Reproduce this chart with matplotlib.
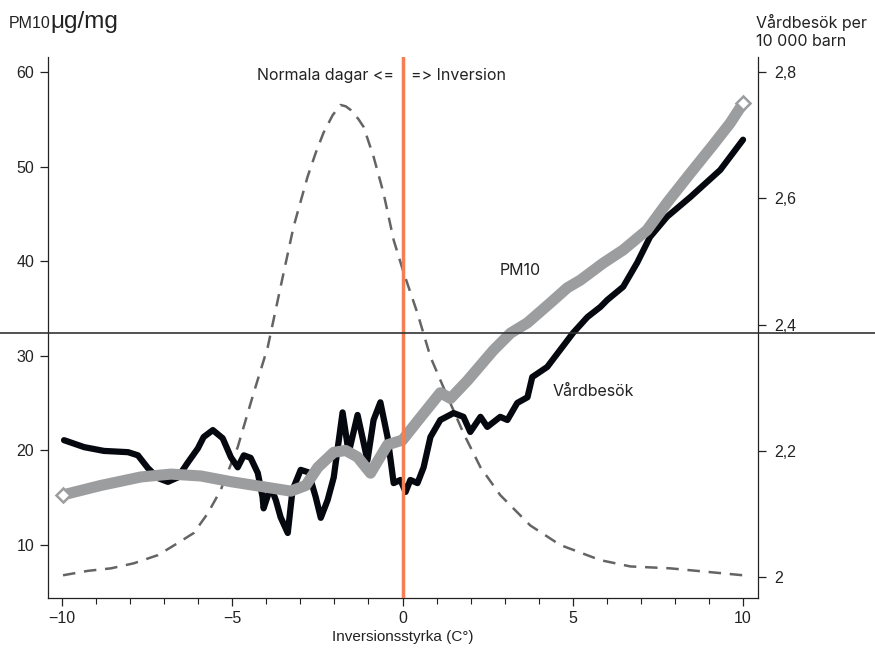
import matplotlib
matplotlib.use("Agg")
import matplotlib.pyplot as plt
from matplotlib.ticker import MultipleLocator

plt.rcParams['font.family'] = ['Liberation Sans', 'DejaVu Sans']
ANN = ['Inter', 'DejaVu Sans']

# PM10 (left axis, µg/mg)
pm_x = [-9.97, -8.86, -7.68, -6.80, -5.92, -5.04, -4.16, -3.28, -2.84, -2.49, -2.02, -1.67,
        -1.32, -0.94, -0.44, 0.0, 0.53, 1.11, 1.41, 1.91, 2.67, 3.17, 3.67, 4.34, 4.84,
        5.22, 5.89, 6.48, 7.18, 7.77, 8.45, 9.12, 9.62, 10.0]
pm_y = [15.3, 16.3, 17.2, 17.5, 17.3, 16.7, 16.2, 15.7, 16.3, 18.2, 19.8, 20.0,
        19.3, 17.6, 20.6, 21.1, 23.5, 26.1, 25.5, 27.4, 30.6, 32.4, 33.5, 35.6, 37.2,
        38.0, 39.8, 41.2, 43.3, 46.2, 49.3, 52.3, 54.6, 56.7]

# Vårdbesök per 10 000 barn (right axis)
vb_x = [-9.94, -9.35, -8.77, -8.06, -7.77, -7.48, -7.18, -6.89, -6.60, -6.30, -6.01, -5.84,
        -5.57, -5.28, -5.04, -4.84, -4.66, -4.46, -4.25, -4.11, -4.08, -3.87, -3.72, -3.58,
        -3.37, -3.23, -2.99, -2.76, -2.55, -2.40, -2.20, -2.02, -1.76, -1.58, -1.32, -1.03,
        -0.85, -0.65, -0.44, -0.26, -0.06, 0.09, 0.23, 0.44, 0.62, 0.82, 1.11, 1.50, 1.79,
        1.99, 2.29, 2.49, 2.87, 3.08, 3.37, 3.67, 3.81, 4.25, 4.63, 5.01, 5.43, 5.81, 6.01,
        6.48, 6.89, 7.27, 7.77, 8.45, 9.33, 10.0]
vb_y = [2.217, 2.206, 2.200, 2.198, 2.193, 2.173, 2.157, 2.151, 2.158, 2.182, 2.204, 2.222,
        2.233, 2.220, 2.190, 2.174, 2.193, 2.189, 2.165, 2.127, 2.109, 2.143, 2.122, 2.095,
        2.070, 2.138, 2.170, 2.166, 2.127, 2.094, 2.122, 2.158, 2.261, 2.197, 2.257, 2.185,
        2.249, 2.277, 2.222, 2.149, 2.154, 2.135, 2.154, 2.149, 2.174, 2.222, 2.249, 2.260, 2.254,
        2.230, 2.254, 2.238, 2.254, 2.249, 2.276, 2.285, 2.317, 2.333, 2.360, 2.387, 2.412, 2.428, 2.439,
        2.460, 2.498, 2.539, 2.571, 2.602, 2.645, 2.693]

# Distribution of days (dashed), drawn in right-axis units
ds_x = [-9.97, -9.24, -8.56, -7.89, -7.18, -6.60, -6.13, -5.72, -5.34, -4.84, -4.37, -3.96,
        -3.58, -3.20, -2.79, -2.55, -2.32, -2.05, -1.82, -1.67, -1.52, -1.30, -1.14, -0.85,
        -0.56, -0.26, 0.03, 0.44, 0.82, 1.20, 1.79, 2.29, 2.87, 3.75, 4.63, 5.81, 6.69, 7.86,
        9.03, 10.0]
ds_y = [2.003, 2.010, 2.014, 2.022, 2.035, 2.054, 2.070, 2.101, 2.138, 2.206, 2.292, 2.364,
        2.460, 2.555, 2.634, 2.672, 2.704, 2.732, 2.748, 2.746, 2.740, 2.726, 2.713, 2.666,
        2.609, 2.534, 2.483, 2.418, 2.349, 2.301, 2.228, 2.174, 2.130, 2.082, 2.051, 2.027,
        2.017, 2.014, 2.008, 2.003]

left_ticks = [10, 20, 30, 40, 50, 60]
right_ticks = [2.0, 2.2, 2.4, 2.6, 2.8]
right_labels = ["2", "2,2", "2,4", "2,6", "2,8"]
x_ticks = [-10, -5, 0, 5, 10]
hline_level = 32.4

fig = plt.figure(figsize=(8.75, 6.5), dpi=100)
ax = fig.add_axes([0.0549, 0.080, 0.8114, 0.8323])
ax2 = ax.twinx()

ax.set_xlim(-10.41, 10.44)
ax.set_ylim(4.4, 61.6)
ax2.set_ylim(1.967, 2.824)

# PM10 band
ax.plot(pm_x, pm_y, color='#9c9d9f', lw=8, solid_capstyle='butt', zorder=2)
ax.plot([pm_x[0], pm_x[-1]], [pm_y[0], pm_y[-1]], ls='none', marker='D', ms=7,
        mfc='white', mec='#9c9d9f', mew=1.8, zorder=3)

# dashed distribution and black line on right axis
ax2.plot(ds_x, ds_y, color='#646464', lw=1.8, dashes=(5, 3.5), zorder=1)
ax2.plot(vb_x, vb_y, color='#05080f', lw=4.5, solid_capstyle='round', solid_joinstyle='round', zorder=4)

# orange vertical line
ax.axvline(0, color='#f47f55', lw=2.5, zorder=5)

# horizontal reference line across whole figure
ax.axhline(hline_level, xmin=-0.0676, xmax=1.165, color='#333333', lw=1.2, clip_on=False, zorder=6)

ax.set_zorder(ax2.get_zorder() + 1)
ax.patch.set_visible(False)

# ticks
ax.set_xticks(x_ticks)
ax.xaxis.set_minor_locator(MultipleLocator(1))
ax.set_yticks(left_ticks)
ax2.set_yticks(right_ticks)
ax2.set_yticklabels(right_labels)
ax.tick_params(axis='both', labelsize=11.5, direction='out', length=6, width=0.9, colors='#222222')
ax.tick_params(axis='x', which='minor', length=4, width=0.8, color='#222222')
ax.tick_params(axis='y', pad=4)
ax2.tick_params(axis='y', labelsize=11.5, direction='out', length=6, width=0.9, colors='#222222', pad=6)

for a in (ax, ax2):
    a.spines['top'].set_visible(False)
    for s in a.spines.values():
        s.set_linewidth(0.9)
        s.set_color('#222222')
ax.spines['right'].set_visible(False)
ax2.spines['left'].set_visible(False)
ax2.spines['bottom'].set_visible(False)

ax.set_xlabel('Inversionsstyrka (C°)', fontsize=11, color='#222222', labelpad=3)

# text labels
ax.text(-0.25, 59.6, 'Normala dagar <=', ha='right', va='center', fontsize=11.5,
        color='#222222', family=ANN)
ax.text(0.25, 59.6, '=> Inversion', ha='left', va='center', fontsize=11.5,
        color='#222222', family=ANN)
ax.text(3.45, 39.0, 'PM10', ha='center', va='center', fontsize=11.5, color='#222222', family=ANN)
ax.text(4.4, 26.2, 'Vårdbesök', ha='left', va='center', fontsize=11.5, color='#222222', family=ANN)

fig.text(0.010, 0.964, 'PM10', fontsize=11.5, color='#222222', ha='left', va='center')
fig.text(0.058, 0.966, 'μg/mg', fontsize=17.5, color='#222222', ha='left', va='center')
fig.text(0.864, 0.952, 'Vårdbesök per\n10 000 barn', fontsize=11.5, color='#222222',
         ha='left', va='center', linespacing=1.25, family=ANN)

fig.savefig('out.png', dpi=100)
